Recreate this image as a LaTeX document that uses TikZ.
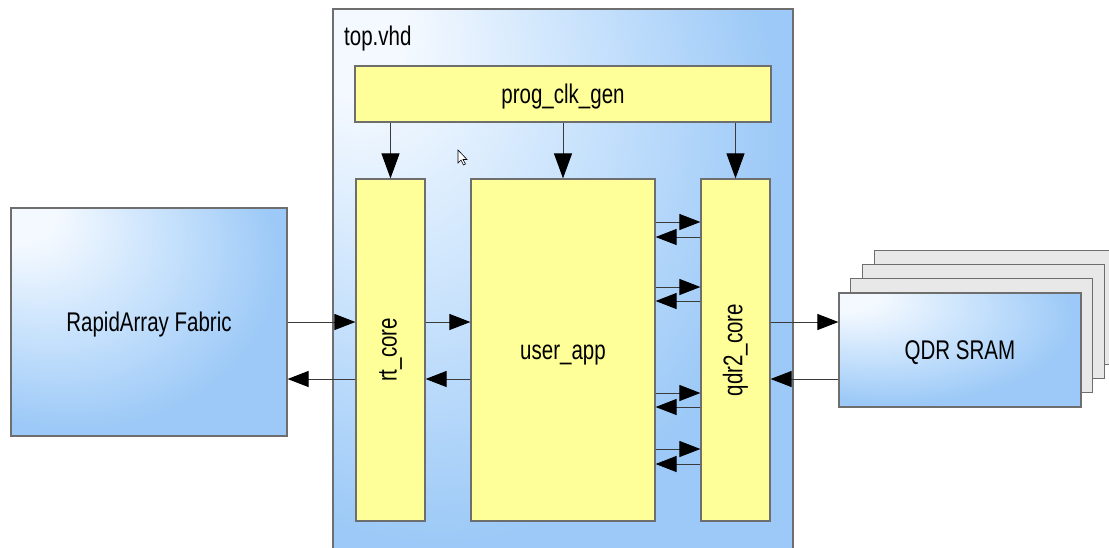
\documentclass[tikz,border=0pt]{standalone}
\usepackage{fontspec}
\setmainfont[FakeStretch=0.76]{Liberation Sans}
\usetikzlibrary{arrows.meta}
\definecolor{boxblue}{HTML}{9CC9F7}
\definecolor{bmid}{HTML}{C6E1FC}
\definecolor{bwhite}{HTML}{F4F9FF}
\definecolor{yfill}{HTML}{FFFF99}
\definecolor{gfill}{HTML}{E8E8E8}
\definecolor{bordergray}{HTML}{6E6E6E}
\definecolor{linegray}{HTML}{3A3A3A}
\pgfdeclareradialshading{bluerad}{\pgfpoint{-25bp}{25bp}}{color(0bp)=(bwhite); color(6bp)=(bwhite); color(22bp)=(bmid); color(37bp)=(boxblue); color(80bp)=(boxblue)}
\tikzset{
  box/.style={draw=bordergray, line width=1.2pt, inner sep=0pt, font=\fontsize{27}{30}\selectfont, text height=19.5pt, text depth=0pt},
  rbox/.style={draw=bordergray, line width=1.2pt, inner sep=0pt, font=\fontsize{27}{30}\selectfont, fill=yfill},
  ybox/.style={box, fill=yfill},
  bbox/.style={box, shade, shading=bluerad},
  gbox/.style={box, fill=gfill},
  conn/.style={draw=linegray, line width=1pt, -{Triangle[length=21pt,width=16pt,color=black]}},
  vconn/.style={draw=linegray, line width=1pt, -{Triangle[length=25pt,width=18pt,color=black]}},
  lbl/.style={font=\fontsize{27}{30}\selectfont, inner sep=0pt}
}
\begin{document}
\begin{tikzpicture}[x=1pt,y=-1pt]
\useasboundingbox (0,0) rectangle (1109,547);
\fill[white] (0,0) rectangle (1109,547);
\clip (0,0) rectangle (1109,547);
% top.vhd container
\node[bbox, minimum width=460pt, minimum height=551pt] (top) at (563,284.5) {};
\node[lbl, anchor=base west] (toplbl) at (344,45) {top.vhd};
% inner blocks
\node[ybox, minimum width=416pt, minimum height=56pt] (pcg) at (563,94) {prog\_clk\_gen};
\node[rbox, minimum width=69pt, minimum height=342pt] (rt) at (390.5,350) {\rotatebox{90}{rt\_core}};
\node[ybox, minimum width=184pt, minimum height=342pt] (ua) at (563,350) {user\_app};
\node[rbox, minimum width=69pt, minimum height=342pt] (qdr) at (735.5,350) {\rotatebox{90}{qdr2\_core}};
% RapidArray Fabric
\node[bbox, minimum width=276pt, minimum height=228pt] (fab) at (149,322) {RapidArray Fabric};
% QDR SRAM stack
\node[gbox, minimum width=242pt, minimum height=114pt] (s4) at (995.1,307.4) {};
\node[gbox, minimum width=242pt, minimum height=114pt] (s3) at (983.4,321.6) {};
\node[gbox, minimum width=242pt, minimum height=114pt] (s2) at (971.7,335.8) {};
\node[bbox, minimum width=242pt, minimum height=114pt] (sram) at (960,350) {QDR SRAM};
% clock arrows
\draw[vconn] (pcg.south -| rt.north) -- (rt.north);
\draw[vconn] (pcg.south -| ua.north) -- (ua.north);
\draw[vconn] (pcg.south -| qdr.north) -- (qdr.north);
% fabric <-> rt_core
\draw[conn] (fab.east |- 0,322) -- (rt.west |- 0,322);
\draw[conn] (rt.west |- 0,379) -- (fab.east |- 0,379);
% rt_core <-> user_app
\draw[conn] (rt.east |- 0,322) -- (ua.west |- 0,322);
\draw[conn] (ua.west |- 0,379) -- (rt.east |- 0,379);
% user_app <-> qdr2_core
\foreach \ya/\yb in {222/237, 287/301, 393/407, 449/464}{
  \draw[conn] (ua.east |- 0,\ya) -- (qdr.west |- 0,\ya);
  \draw[conn] (qdr.west |- 0,\yb) -- (ua.east |- 0,\yb);
}
% qdr2_core <-> QDR SRAM
\draw[conn] (qdr.east |- 0,322) -- (sram.west |- 0,322);
\draw[conn] (sram.west |- 0,379) -- (qdr.east |- 0,379);
% mouse cursor
\draw[fill=white, line width=0.6pt, line join=miter] (458,150) -- (458,163) -- (461,160) -- (463.5,165) -- (465.5,164) -- (463,159.5) -- (467,159.5) -- cycle;
\end{tikzpicture}
\end{document}
